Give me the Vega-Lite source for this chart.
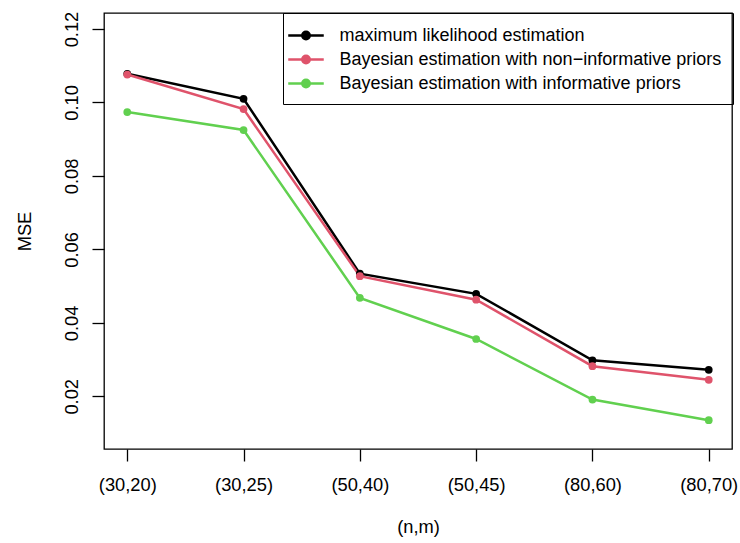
{
  "$schema": "https://vega.github.io/schema/vega-lite/v6.json",
  "width": 628,
  "height": 436,
  "autosize": {"type": "none"},
  "padding": {"left": 104, "top": 13, "right": 8, "bottom": 94},
  "background": "white",
  "data": {
    "values": [
      {"nm": "(30,20)", "series": "\u00a0maximum likelihood estimation", "mse": 0.1078},
      {"nm": "(30,25)", "series": "\u00a0maximum likelihood estimation", "mse": 0.1010},
      {"nm": "(50,40)", "series": "\u00a0maximum likelihood estimation", "mse": 0.0534},
      {"nm": "(50,45)", "series": "\u00a0maximum likelihood estimation", "mse": 0.0479},
      {"nm": "(80,60)", "series": "\u00a0maximum likelihood estimation", "mse": 0.0298},
      {"nm": "(80,70)", "series": "\u00a0maximum likelihood estimation", "mse": 0.0272},
      {"nm": "(30,20)", "series": "Bayesian estimation with non−informative priors", "mse": 0.1076},
      {"nm": "(30,25)", "series": "Bayesian estimation with non−informative priors", "mse": 0.0982},
      {"nm": "(50,40)", "series": "Bayesian estimation with non−informative priors", "mse": 0.0527},
      {"nm": "(50,45)", "series": "Bayesian estimation with non−informative priors", "mse": 0.0463},
      {"nm": "(80,60)", "series": "Bayesian estimation with non−informative priors", "mse": 0.0282},
      {"nm": "(80,70)", "series": "Bayesian estimation with non−informative priors", "mse": 0.0245},
      {"nm": "(30,20)", "series": "Bayesian estimation with informative priors", "mse": 0.0974},
      {"nm": "(30,25)", "series": "Bayesian estimation with informative priors", "mse": 0.0925},
      {"nm": "(50,40)", "series": "Bayesian estimation with informative priors", "mse": 0.0468},
      {"nm": "(50,45)", "series": "Bayesian estimation with informative priors", "mse": 0.0356},
      {"nm": "(80,60)", "series": "Bayesian estimation with informative priors", "mse": 0.0191},
      {"nm": "(80,70)", "series": "Bayesian estimation with informative priors", "mse": 0.0135}
    ]
  },
  "encoding": {
    "x": {
      "field": "nm", "type": "ordinal",
      "scale": {"type": "point", "padding": 0.2, "domain": ["(30,20)", "(30,25)", "(50,40)", "(50,45)", "(80,60)", "(80,70)"]},
      "axis": {"title": "(n,m)", "labelAngle": 0, "labelPadding": 15, "titlePadding": 25, "labelAlign": "center"}
    },
    "y": {
      "field": "mse", "type": "quantitative",
      "scale": {"domain": [0.00565, 0.12436], "nice": false, "zero": false},
      "axis": {"title": "MSE", "values": [0.02, 0.04, 0.06, 0.08, 0.10, 0.12], "format": ".2f", "labelAngle": -90, "labelAlign": "center", "labelBaseline": "alphabetic", "labelPadding": 14.5, "titlePadding": 28}
    },
    "color": {
      "field": "series", "type": "nominal",
      "scale": {
        "domain": ["\u00a0maximum likelihood estimation", "Bayesian estimation with non−informative priors", "Bayesian estimation with informative priors"],
        "range": ["#000000", "#DF536B", "#61D04F"]
      },
      "legend": {
        "title": null,
        "orient": "none",
        "legendX": 179,
        "legendY": 0,
        "padding": 11.5,
        "strokeColor": "black",
        "labelFont": "Liberation Sans",
        "labelFontSize": 18,
        "labelColor": "black",
        "labelLimit": 0,
        "labelOffset": 22.5,
        "rowPadding": 4,
        "symbolType": "M-1.87,0L1.87,0M0.39,0A0.39,0.39,0,1,1,-0.39,0A0.39,0.39,0,1,1,0.39,0Z",
        "symbolSize": 361,
        "symbolStrokeWidth": 2.5,
        "symbolOffset": 0.5,
        "encode": {
          "symbols": {"update": {"fill": {"scale": "color", "field": "value"}, "stroke": {"scale": "color", "field": "value"}, "opacity": {"value": 1}}}
        }
      }
    }
  },
  "layer": [
    {"mark": {"type": "line", "strokeWidth": 2.5}},
    {"mark": {"type": "point", "filled": true, "size": 60, "opacity": 1}}
  ],
  "config": {
    "view": {"stroke": "black", "strokeWidth": 1.3},
    "axis": {
      "domain": false,
      "grid": false,
      "tickColor": "black",
      "tickWidth": 1.3,
      "tickSize": 12,
      "labelFont": "Liberation Sans",
      "labelFontSize": 18.3,
      "labelColor": "black",
      "titleFont": "Liberation Sans",
      "titleFontSize": 18.3,
      "titleFontWeight": "normal",
      "titleColor": "black"
    }
  }
}
